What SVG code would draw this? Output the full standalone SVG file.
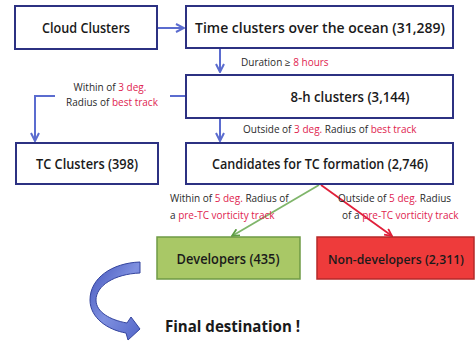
<svg xmlns="http://www.w3.org/2000/svg" width="475" height="342" viewBox="0 0 475 342">
  <style>
    .box { fill: #ffffff; stroke: #2c3182; stroke-width: 2; }
    .lbl { font-family: "Open Sans", "Liberation Sans", sans-serif; font-weight: 600; fill: #1a1a1a; text-anchor: middle; }
    .note { font-family: "Open Sans", "Liberation Sans", sans-serif; font-size: 10px; fill: #2a2a2a; }
    .hl { fill: #e0234f; }
    .flow { fill: none; stroke: #5b6ccf; stroke-width: 2; }
  </style>
  <defs>
    <marker id="ah" viewBox="0 0 10 10" refX="9" refY="5" markerWidth="5" markerHeight="5" orient="auto" markerUnits="strokeWidth">
      <path d="M1,1 L9,5 L1,9" fill="none" stroke="#5b6ccf" stroke-width="2"/>
    </marker>
    <marker id="ahG" viewBox="0 0 10 10" refX="9" refY="5" markerWidth="5" markerHeight="5" orient="auto" markerUnits="strokeWidth">
      <path d="M1,1 L9,5 L1,9" fill="none" stroke="#5f9e45" stroke-width="2"/>
    </marker>
    <marker id="ahR" viewBox="0 0 10 10" refX="9" refY="5" markerWidth="5" markerHeight="5" orient="auto" markerUnits="strokeWidth">
      <path d="M1,1 L9,5 L1,9" fill="none" stroke="#e0203a" stroke-width="2"/>
    </marker>
    <linearGradient id="curl" x1="0" y1="0" x2="1" y2="1">
      <stop offset="0" stop-color="#4355bb"/>
      <stop offset="0.5" stop-color="#7f90e0"/>
      <stop offset="1" stop-color="#5366c8"/>
    </linearGradient>
  </defs>

  <!-- connectors -->
  <g id="connectors">
    <line class="flow" x1="158" y1="28" x2="184" y2="28" marker-end="url(#ah)"/>
    <line class="flow" x1="220" y1="49" x2="220" y2="72" marker-end="url(#ah)"/>
    <line class="flow" x1="220" y1="118" x2="220" y2="141" marker-end="url(#ah)"/>
    <polyline class="flow" points="186,96 170,96"/>
    <polyline class="flow" points="55,96 35,96 35,141" marker-end="url(#ah)"/>
    <line x1="319" y1="185" x2="232" y2="236" stroke="#7fb56a" stroke-width="1.8" marker-end="url(#ahG)"/>
    <line x1="321" y1="185" x2="392" y2="236" stroke="#e0203a" stroke-width="1.8" marker-end="url(#ahR)"/>
    <text class="note" x="241" y="66">Duration ≥ <tspan class="hl">8 hours</tspan></text>
    <text class="note" x="110" y="91" text-anchor="middle">Within of <tspan class="hl">3 deg.</tspan></text>
    <text class="note" x="112" y="106" text-anchor="middle">Radius of <tspan class="hl">best track</tspan></text>
    <text class="note" x="243" y="133">Outside of <tspan class="hl">3 deg.</tspan> Radius of <tspan class="hl">best track</tspan></text>
    <text class="note" x="170" y="202">Within of <tspan class="hl">5 deg.</tspan> Radius of</text>
    <text class="note" x="170" y="219">a <tspan class="hl">pre-TC vorticity track</tspan></text>
    <text class="note" x="338" y="202">Outside of <tspan class="hl">5 deg.</tspan> Radius</text>
    <text class="note" x="342" y="219">of a <tspan class="hl">pre-TC vorticity track</tspan></text>
  </g>

  <g id="cloud-clusters">
    <rect class="box" x="15" y="6" width="142" height="43"/>
    <text class="lbl" x="86" y="33" font-size="14" textLength="88" lengthAdjust="spacingAndGlyphs">Cloud Clusters</text>
  </g>

  <g id="time-clusters">
    <rect class="box" x="186" y="6" width="267" height="42"/>
    <text class="lbl" x="320" y="33" font-size="15" textLength="250" lengthAdjust="spacingAndGlyphs">Time clusters over the ocean (31,289)</text>
  </g>

  <g id="eight-h-clusters">
    <rect class="box" x="186" y="75" width="267" height="43"/>
    <text class="lbl" x="350" y="102" font-size="15" textLength="119" lengthAdjust="spacingAndGlyphs">8-h clusters (3,144)</text>
  </g>

  <g id="tc-clusters">
    <rect class="box" x="16" y="143" width="142" height="41"/>
    <text class="lbl" x="87" y="169" font-size="14" textLength="102" lengthAdjust="spacingAndGlyphs">TC Clusters (398)</text>
  </g>

  <g id="candidates">
    <rect class="box" x="186" y="143" width="267" height="41"/>
    <text class="lbl" x="320" y="169" font-size="14" textLength="216" lengthAdjust="spacingAndGlyphs">Candidates for TC formation (2,746)</text>
  </g>

  <g id="developers">
    <rect x="157" y="237" width="143" height="42" fill="#a9c866" stroke="#6f9a45" stroke-width="1.5"/>
    <text class="lbl" x="228" y="264" font-size="14" textLength="103" lengthAdjust="spacingAndGlyphs">Developers (435)</text>
  </g>

  <g id="non-developers">
    <rect x="317" y="237" width="157" height="42" fill="#ee3b3b" stroke="#b52a2a" stroke-width="1.5"/>
    <text class="lbl" x="396" y="264" font-size="12.5" textLength="136" lengthAdjust="spacingAndGlyphs">Non-developers (2,311)</text>
  </g>

  <g id="final-destination">
    <path d="M140,262 C112,263 90,278 90,300 C90,318 108,330 126,333 L128,340 L140,329 L131,317 L127,323 C110,320 96,312 96,300 C96,286 114,274 140,273 Z"
          fill="url(#curl)" stroke="#34449e" stroke-width="1"/>
    <text x="165" y="332" font-family="'Open Sans', 'Liberation Sans', sans-serif" font-weight="700" font-size="16" fill="#1a1a1a" textLength="135" lengthAdjust="spacingAndGlyphs">Final destination !</text>
  </g>
</svg>
